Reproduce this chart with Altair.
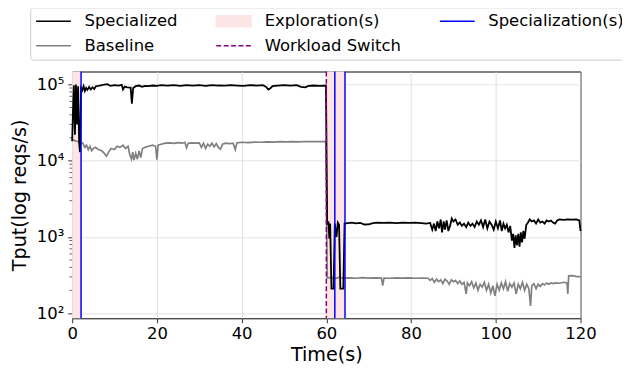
import altair as alt
import pandas as pd

# ---------------- data ----------------
spec_points = [
    (0.0, 18000), (0.25, 60000), (0.4, 98000), (0.65, 22000), (0.9, 100000),
    (1.15, 30000), (1.4, 95000), (1.65, 17000), (1.85, 13000), (2.1, 90000),
    (2.4, 84000), (2.7, 95000), (3.0, 82000), (3.3, 90000), (3.6, 85000),
    (4.0, 93000), (4.4, 86000), (4.8, 92000), (5.2, 87000), (5.6, 95000),
    (6.2, 96000), (7.0, 98000), (7.6, 100000), (8.3, 101000), (9.0, 96000),
    (10.0, 98000), (11.0, 97000), (11.7, 99000), (12.0, 86000), (12.4, 94000),
    (13.0, 92000), (13.8, 91000), (14.1, 56000), (14.4, 90000), (15.0, 95000),
    (15.8, 97000), (16.5, 93000), (17.2, 96000), (18.0, 95000), (19.0, 97000),
    (20.0, 96000), (21.0, 98000), (22.5, 97000), (24.0, 98000), (25.5, 96000),
    (27.0, 98000), (28.5, 97000), (30.0, 98000), (31.5, 96000), (33.0, 98000),
    (34.5, 97000), (36.0, 96500), (37.5, 98000), (39.0, 97000), (40.5, 96000),
    (42.0, 98000), (43.5, 97000), (45.0, 98000), (45.8, 93000), (46.3, 86000),
    (46.8, 89000), (47.3, 95000), (48.5, 97000), (50.0, 98000), (51.5, 97000),
    (53.0, 98000), (54.0, 93000), (55.0, 92000), (55.8, 96000), (57.0, 97000),
    (58.5, 96000), (59.9, 97000),
    (60.2, 1500), (60.5, 1550), (60.7, 950), (60.9, 1500), (61.2, 210),
    (61.7, 210), (62.0, 1500), (62.4, 1000), (62.7, 1550), (63.0, 1450),
    (63.3, 210), (64.0, 210), (64.3, 1500), (65.0, 1520), (66.0, 1540),
    (67.0, 1510), (68.0, 1530), (69.0, 1460), (70.0, 1470), (71.0, 1520),
    (72.0, 1540), (73.5, 1530), (75.0, 1545), (76.5, 1525), (78.0, 1550),
    (79.5, 1530), (81.0, 1540), (82.5, 1520), (83.5, 1500), (84.5, 1530),
    (85.0, 1250), (85.4, 1500), (85.8, 1200), (86.2, 1600), (86.6, 1300),
    (87.0, 1700), (87.3, 1150), (87.7, 1600), (88.0, 1250), (88.4, 1650),
    (88.8, 1200), (89.2, 1400), (89.6, 1750), (90.0, 1600), (90.5, 1700),
    (91.0, 1450), (91.5, 1550), (92.0, 1400), (92.5, 1500), (93.0, 1350),
    (93.5, 1550), (94.0, 1400), (94.5, 1500), (95.0, 1350), (95.5, 1600),
    (96.0, 1450), (96.5, 1650), (97.0, 1350), (97.5, 1700), (98.0, 1300),
    (98.5, 1600), (99.0, 1450), (99.5, 1250), (100.0, 1600), (100.5, 1300),
    (101.0, 1650), (101.4, 1200), (101.8, 1500), (102.2, 1300), (102.6, 1450),
    (103.0, 1150), (103.4, 1400), (103.8, 900), (104.1, 1100), (104.4, 720),
    (104.7, 1050), (105.0, 780), (105.3, 1100), (105.6, 750), (105.9, 1150),
    (106.2, 850), (106.5, 1200), (106.8, 950), (107.2, 1450), (107.6, 1550),
    (108.0, 1700), (108.5, 1600), (109.0, 1650), (109.5, 1500), (110.0, 1700),
    (110.5, 1550), (111.0, 1600), (111.5, 1500), (112.0, 1650), (112.5, 1600),
    (113.0, 1650), (113.5, 1550), (114.0, 1500), (114.5, 1650), (115.0, 1700),
    (116.0, 1680), (117.0, 1700), (118.0, 1690), (119.0, 1700), (119.7, 1650),
    (120.0, 1200),
]

base_points = [
    (0.0, 19000), (0.5, 18500), (1.0, 18000), (1.5, 17800), (2.0, 17500),
    (2.5, 17000), (3.0, 15000), (3.4, 16000), (3.8, 14000), (4.2, 15500),
    (4.6, 13500), (5.0, 14500), (5.5, 15000), (6.2, 14000), (7.0, 13500),
    (7.6, 12500), (8.1, 11500), (8.6, 13000), (9.2, 14500), (10.0, 14000),
    (10.6, 15500), (11.3, 15000), (12.0, 16000), (12.6, 14500), (13.2, 15500),
    (13.6, 12000), (14.0, 10500), (14.3, 13000), (14.6, 10200), (15.0, 12500),
    (15.4, 10500), (15.8, 13500), (16.2, 11000), (16.6, 14500), (17.2, 15000),
    (18.0, 15500), (19.0, 16000), (19.7, 15500), (20.0, 10300), (20.3, 16000),
    (21.0, 16500), (22.0, 17000), (23.0, 17200), (24.0, 16900), (25.0, 17300),
    (26.0, 17000), (26.6, 17500), (27.0, 14800), (27.4, 17000), (28.2, 17200),
    (29.2, 17000), (30.0, 17200), (30.5, 15000), (31.0, 17000), (31.5, 14500),
    (32.0, 16500), (32.5, 15500), (33.0, 17000), (33.5, 15200), (34.0, 16800),
    (34.5, 15000), (35.0, 14200), (35.5, 16500), (36.2, 17000), (37.2, 16800),
    (38.0, 17000), (38.5, 14000), (38.9, 17200), (40.0, 17500), (41.5, 17300),
    (43.0, 17600), (44.5, 17500), (46.0, 17700), (47.5, 17600), (49.0, 17800),
    (50.5, 17700), (52.0, 17800), (53.5, 17700), (55.0, 17900), (56.5, 17800),
    (58.0, 17900), (59.9, 17800),
    (60.2, 290), (61.0, 295), (62.0, 285), (63.0, 295), (64.0, 290),
    (65.5, 292), (67.0, 288), (68.5, 293), (70.0, 290), (71.5, 292),
    (73.0, 290), (73.3, 230), (73.6, 290), (75.0, 288), (76.5, 292),
    (78.0, 289), (79.5, 291), (81.0, 288), (82.5, 290), (84.0, 288),
    (84.5, 270), (85.0, 285), (85.5, 255), (86.0, 280), (86.5, 260),
    (87.0, 275), (87.5, 245), (88.0, 280), (88.5, 265), (89.0, 240),
    (89.5, 275), (90.0, 260), (90.5, 270), (91.0, 245), (91.5, 265),
    (92.0, 240), (92.5, 255), (93.0, 180), (93.3, 250), (93.8, 230),
    (94.3, 260), (94.8, 215), (95.3, 250), (95.8, 200), (96.3, 240),
    (96.8, 220), (97.3, 255), (97.8, 200), (98.3, 240), (98.8, 185),
    (99.3, 230), (99.8, 170), (100.3, 240), (100.8, 200), (101.3, 250),
    (101.8, 210), (102.3, 260), (102.8, 195), (103.3, 245), (103.8, 220),
    (104.3, 250), (104.8, 180), (105.3, 240), (105.8, 210), (106.3, 255),
    (106.8, 200), (107.3, 240), (107.8, 210), (108.2, 125), (108.5, 230),
    (109.0, 245), (109.5, 210), (110.0, 240), (110.5, 225), (111.0, 245),
    (111.5, 235), (112.0, 250), (112.5, 240), (113.0, 250), (113.5, 245),
    (114.0, 250), (115.0, 248), (116.0, 255), (116.8, 250), (117.0, 180),
    (117.2, 310), (118.0, 312), (119.0, 305), (120.0, 300),
]

explore_start = [0.0, 60.0]
explore_end = [2.1, 64.4]
switch_times = [60.0]
specialization_times = [2.1, 62.0, 64.4]

x_ticks = [0, 20, 40, 60, 80, 100, 120]
y_ticks = [100, 1000, 10000, 100000]
y_tick_labels = ["10²", "10³", "10⁴", "10⁵"]
y_minor = [m * d for d in (100, 1000, 10000) for m in range(2, 10)]

legend_labels = ["Specialized", "Baseline", "Exploration(s)",
                 "Workload Switch", "Specialization(s)"]

# ---------------- styles ----------------
FONT = "DejaVu Sans"
PINK = "#fde5e5"
LINE_SYM = "M-1,0H3.4"
RECT_SYM = "M-1,-0.7H3.4V0.7H-1Z"
legend_stroke = ["#000000", "#808080", PINK, "#800080", "#0000ff"]
legend_fill = ["transparent", "transparent", PINK, "transparent", "transparent"]
legend_shape = [LINE_SYM, LINE_SYM, RECT_SYM, LINE_SYM, LINE_SYM]
legend_dash = [[1, 0], [1, 0], [1, 0], [5, 2.5], [1, 0]]

spec_df = pd.DataFrame(spec_points, columns=["t", "v"])
base_df = pd.DataFrame(base_points, columns=["t", "v"])
span_df = pd.DataFrame({"start": explore_start, "end": explore_end})
switch_df = pd.DataFrame({"t": switch_times})
special_df = pd.DataFrame({"t": specialization_times})
minor_df = pd.DataFrame({"v": y_minor})
legend_df = pd.DataFrame({"label": legend_labels})

label_expr = " : ".join(
    f"datum.value == {v} ? '{l}'" for v, l in zip(y_ticks[:-1], y_tick_labels[:-1])
) + f" : '{y_tick_labels[-1]}'"

xs = alt.Scale(domain=[0, 120], nice=False, zero=False)
ys = alt.Scale(type="log", domain=[86, 148000], nice=False)

x_axis = alt.Axis(values=x_ticks, title="Time(s)", format="d",
                  labelPadding=2.5, titlePadding=4)
y_axis = alt.Axis(values=y_ticks, title="Tput(log reqs/s)", labelExpr=label_expr,
                  labelPadding=4, titlePadding=7)

spans = alt.Chart(span_df).mark_rect(color=PINK).encode(
    x=alt.X("start:Q", scale=xs, axis=x_axis), x2="end:Q")

base_line = alt.Chart(base_df).mark_line(color="#808080", strokeWidth=1.7).encode(
    x=alt.X("t:Q", scale=xs, axis=x_axis),
    y=alt.Y("v:Q", scale=ys, axis=y_axis))

spec_line = alt.Chart(spec_df).mark_line(color="#000000", strokeWidth=1.8).encode(
    x=alt.X("t:Q", scale=xs, axis=x_axis),
    y=alt.Y("v:Q", scale=ys, axis=y_axis))

switch = alt.Chart(switch_df).mark_rule(color="#800080", strokeDash=[5, 2.5],
                                         strokeWidth=1.5).encode(
    x=alt.X("t:Q", scale=xs))

special = alt.Chart(special_df).mark_rule(color="#0000ff", strokeWidth=1.5).encode(
    x=alt.X("t:Q", scale=xs))

minor = alt.Chart(minor_df).mark_rule(color="black", strokeWidth=0.6).encode(
    y=alt.Y("v:Q", scale=ys), x=alt.value(0), x2=alt.value(-2.8))

leg_common = dict(domain=legend_labels)
leg = alt.Chart(legend_df).mark_point(opacity=0).encode(
    shape=alt.Shape("label:N", scale=alt.Scale(range=legend_shape, **leg_common),
                    legend=alt.Legend(title=None, symbolOpacity=1)),
    stroke=alt.Stroke("label:N", scale=alt.Scale(range=legend_stroke, **leg_common),
                      legend=alt.Legend(title=None, symbolOpacity=1)),
    fill=alt.Fill("label:N", scale=alt.Scale(range=legend_fill, **leg_common),
                  legend=alt.Legend(title=None, symbolOpacity=1)),
    strokeDash=alt.StrokeDash("label:N", scale=alt.Scale(range=legend_dash, **leg_common),
                              legend=alt.Legend(title=None, symbolOpacity=1)),
)

chart = alt.layer(spans, base_line, spec_line, switch, special, minor, leg).properties(
    width=515, height=250,
    autosize=alt.AutoSizeParams(type="none"),
    padding={"left": 65, "top": 62, "right": 42, "bottom": 48},
).configure_view(
    stroke="black", strokeWidth=1
).configure_axis(
    domain=False, grid=True, gridColor="#dcdcdc", gridWidth=0.8,
    tickColor="black", tickSize=4.5, tickWidth=0.8,
    labelFont=FONT, labelFontSize=16.67, labelColor="black",
    titleFont=FONT, titleFontSize=19.44, titleFontWeight="normal", titleColor="black",
    labelFlush=False
).configure_legend(
    orient="none", legendX=-42.5, legendY=-65, columns=3, gridAlign="each",
    columnPadding=35.5, rowPadding=7, labelFont=FONT, labelFontSize=16.67,
    labelColor="black", labelOffset=32, symbolSize=256, symbolStrokeWidth=1.5,
    padding=5, strokeColor="#cccccc", fillColor="white", cornerRadius=3,
    labelLimit=300
)

chart.save("out.html", embed_options={"renderer": "svg", "actions": False})
